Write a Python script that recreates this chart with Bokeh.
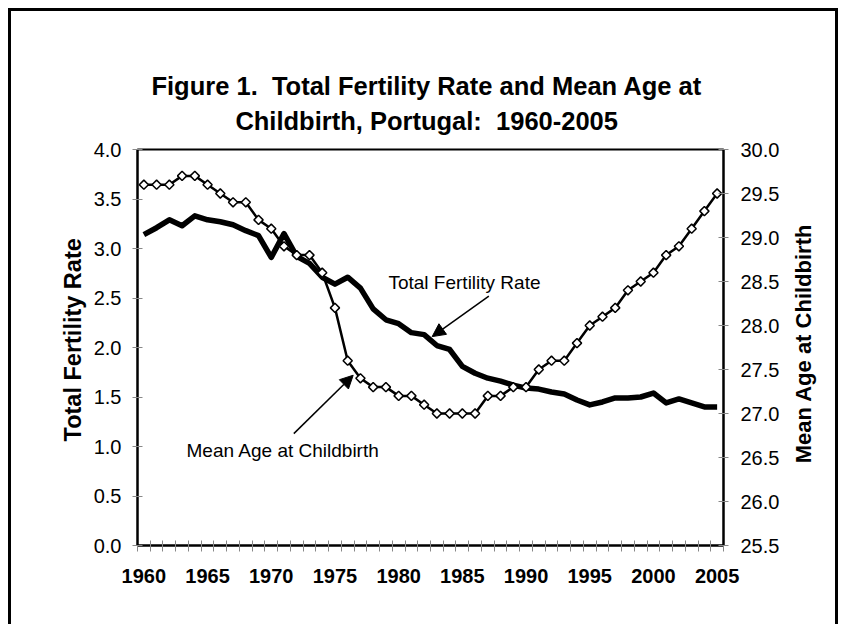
import numpy as np
from bokeh.plotting import figure
from bokeh.models import (Range1d, LinearAxis, FixedTicker, Label, Arrow,
                          NormalHead, NumeralTickFormatter)
from bokeh.embed import file_html
from bokeh.resources import INLINE

# ---- data ----
years = list(range(1960, 2006))
tfr = [3.14, 3.21, 3.29, 3.23, 3.33, 3.29, 3.27, 3.24, 3.18, 3.13,
       2.91, 3.15, 2.92, 2.85, 2.71, 2.64, 2.71, 2.60, 2.39, 2.28,
       2.24, 2.15, 2.13, 2.02, 1.98, 1.81, 1.74, 1.69, 1.66, 1.62,
       1.59, 1.58, 1.55, 1.53, 1.47, 1.42, 1.45, 1.49, 1.49, 1.50,
       1.54, 1.44, 1.48, 1.44, 1.40, 1.40]
mac = [29.6, 29.6, 29.6, 29.7, 29.7, 29.6, 29.5, 29.4, 29.4, 29.2,
       29.1, 28.9, 28.8, 28.8, 28.6, 28.2, 27.6, 27.4, 27.3, 27.3,
       27.2, 27.2, 27.1, 27.0, 27.0, 27.0, 27.0, 27.2, 27.2, 27.3,
       27.3, 27.5, 27.6, 27.6, 27.8, 28.0, 28.1, 28.2, 28.4, 28.5,
       28.6, 28.8, 28.9, 29.1, 29.3, 29.5]
x_tick_years = [1960, 1965, 1970, 1975, 1980, 1985, 1990, 1995, 2000, 2005]
left_ticks = [0.0, 0.5, 1.0, 1.5, 2.0, 2.5, 3.0, 3.5, 4.0]
right_ticks = [25.5, 26.0, 26.5, 27.0, 27.5, 28.0, 28.5, 29.0, 29.5, 30.0]
title_lines = ["Figure 1.\u00a0 Total Fertility Rate and Mean Age at",
               "Childbirth, Portugal:\u00a0 1960-2005"]
left_label = "Total Fertility Rate"
right_label = "Mean Age at Childbirth"

FONT = "Liberation Sans"
W, H = 830, 616

p = figure(width=W, height=H, output_backend="svg", toolbar_location=None,
           x_range=Range1d(years[0] - 0.5, years[-1] + 0.5),
           y_range=Range1d(0, 4), title=None)
p.extra_y_ranges = {"mac": Range1d(25.5, 30)}
p.styles = {"margin-left": "8px", "margin-top": "8px",
            "border-left": "3px solid black", "border-top": "3px solid black",
            "border-right": "3px solid black"}

p.min_border_left = 126
p.min_border_right = 118
p.min_border_top = 138
p.min_border_bottom = 82
p.background_fill_color = "white"
p.border_fill_color = "white"
p.outline_line_color = "black"
p.outline_line_width = 2
p.grid.visible = False

# x axis
xa = p.xaxis[0]
xa.ticker = FixedTicker(ticks=x_tick_years,
                        minor_ticks=[y - 0.5 for y in years] + [years[-1] + 0.5])
xa.major_tick_in = 0
xa.major_tick_out = 0
xa.minor_tick_in = 5
xa.minor_tick_out = 6
xa.minor_tick_line_color = "#888888"
xa.axis_line_color = "black"
xa.axis_line_width = 2
xa.major_label_text_font = FONT
xa.major_label_text_font_style = "bold"
xa.major_label_text_font_size = "20px"
xa.major_label_text_color = "black"
xa.major_label_standoff = 17

# left axis
ya = p.yaxis[0]
ya.ticker = FixedTicker(ticks=left_ticks)
ya.formatter = NumeralTickFormatter(format="0.0")
ya.major_tick_in = 5
ya.major_tick_out = 5
ya.minor_tick_line_color = None
ya.major_tick_line_color = "#888888"
ya.axis_line_color = "black"
ya.axis_line_width = 2
ya.major_label_text_font = FONT
ya.major_label_text_font_size = "20px"
ya.major_label_text_color = "black"
ya.major_label_standoff = 11

# right axis
ra = LinearAxis(y_range_name="mac", ticker=FixedTicker(ticks=right_ticks),
                formatter=NumeralTickFormatter(format="0.0"))
ra.major_tick_in = 5
ra.major_tick_out = 5
ra.minor_tick_line_color = None
ra.major_tick_line_color = "#888888"
ra.axis_line_color = "black"
ra.axis_line_width = 2
ra.major_label_text_font = FONT
ra.major_label_text_font_size = "20px"
ra.major_label_text_color = "black"
ra.major_label_standoff = 12
p.add_layout(ra, "right")


# label-only axes used for the axis titles and the two title lines
def text_axis(text, pos, size, standoff, orientation=None):
    ax = LinearAxis(ticker=FixedTicker(ticks=[pos]),
                    major_label_overrides={pos: text})
    ax.axis_line_color = None
    ax.major_tick_line_color = None
    ax.minor_tick_line_color = None
    ax.major_tick_out = 0
    ax.major_tick_in = 0
    if orientation is not None:
        ax.major_label_orientation = orientation
    ax.major_label_text_font = FONT
    ax.major_label_text_font_style = "bold"
    ax.major_label_text_font_size = size
    ax.major_label_text_color = "black"
    ax.major_label_standoff = standoff
    return ax


# axis titles, both reading bottom-to-top
p.add_layout(text_axis(left_label, 3.104, "23.5px", 17, np.pi / 2), "left")
p.add_layout(text_axis(right_label, 0.830, "22px", 21, np.pi / 2), "right")

# chart title: line 2 closest to the frame, then line 1
p.add_layout(text_axis(title_lines[1], 1982.2, "25.5px", 15), "above")
p.add_layout(text_axis(title_lines[0], 1982.21, "25.5px", 4), "above")

# series
p.line(years, tfr, line_color="black", line_width=5.5, line_join="round")
p.line(years, mac, y_range_name="mac", line_color="black", line_width=2.5)
p.scatter(years, mac, y_range_name="mac", marker="square", angle=np.pi / 4,
          size=6.5, fill_color="white", line_color="black", line_width=1.5)

# annotations
p.add_layout(Arrow(end=NormalHead(size=13, fill_color="black", line_color="black"),
                   x_start=1987.08, y_start=2.52, x_end=1982.63, y_end=2.11,
                   line_color="black", line_width=1.5))
p.add_layout(Arrow(end=NormalHead(size=13, fill_color="black", line_color="black"),
                   x_start=1971.77, y_start=1.13, x_end=1976.43, y_end=1.72,
                   line_color="black", line_width=1.5))
p.add_layout(Label(x=1979.2, y=2.66, text="Total Fertility Rate",
                   text_font=FONT, text_font_size="19px",
                   text_baseline="alphabetic", text_color="black"))
p.add_layout(Label(x=1963.35, y=0.96, text="Mean Age at Childbirth",
                   text_font=FONT, text_font_size="19px",
                   text_baseline="alphabetic", text_color="black"))

open("out.html", "w").write(file_html(p, INLINE))
